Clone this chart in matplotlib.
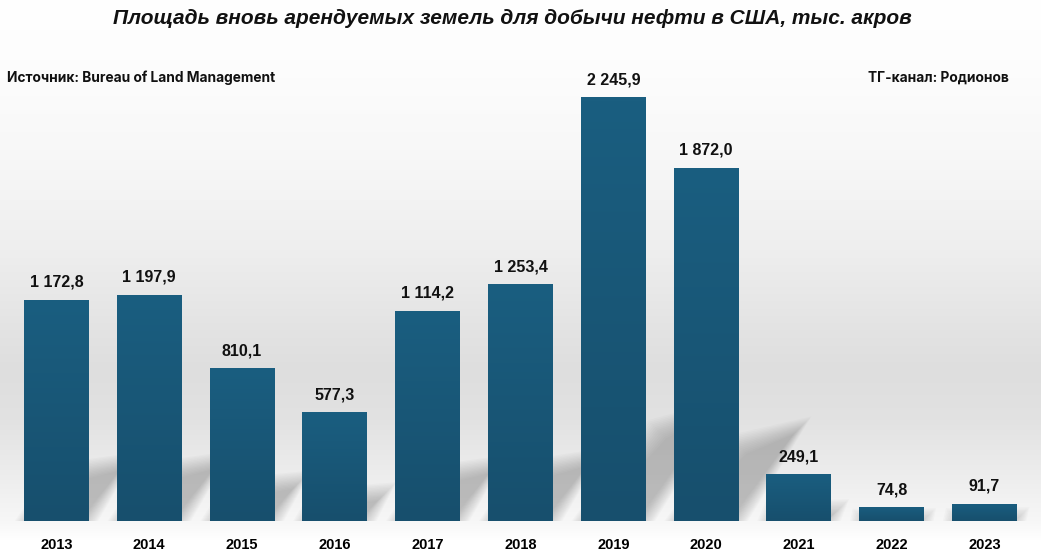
import numpy as np
import matplotlib
matplotlib.use("Agg")
import matplotlib.pyplot as plt
from matplotlib.patches import Polygon
from matplotlib.colors import LinearSegmentedColormap

years = ["2013", "2014", "2015", "2016", "2017", "2018", "2019", "2020", "2021", "2022", "2023"]
values = [1172.8, 1197.9, 810.1, 577.3, 1114.2, 1253.4, 2245.9, 1872.0, 249.1, 74.8, 91.7]

title = "Площадь вновь арендуемых земель для добычи нефти в США, тыс. акров"
source = "Источник: Bureau of Land Management"
channel = "ТГ-канал: Родионов"

W, H = 1041, 554
fig = plt.figure(figsize=(W / 100, H / 100), dpi=100)

# background gradient (figure space)
bg = fig.add_axes([0, 0, 1, 1], zorder=-10)
bg.set_axis_off()
stops_y = np.array([0, 60, 150, 250, 330, 370, 420, 470, 521, 540, 554])
stops_g = np.array([255, 253, 248, 238, 227, 222, 226, 236, 247, 255, 255])
yy = np.arange(H)
col = np.interp(yy, stops_y, stops_g) / 255.0
img = np.repeat(col[:, None], 4, axis=1)
bg.imshow(np.dstack([img, img, img]), extent=[0, 1, 0, 1], aspect="auto", interpolation="bilinear")
bg.set_xlim(0, 1)
bg.set_ylim(0, 1)

# main axes
ax = fig.add_axes([10 / W, 33 / H, 1021 / W, 461 / H])
ax.set_facecolor("none")
x = np.arange(len(years))
bw = 0.70
ax.set_xlim(-0.5, len(years) - 0.5)
ax.set_ylim(0, 2442)
for s in ax.spines.values():
    s.set_visible(False)
ax.set_yticks([])
ax.set_xticks(x)
ax.set_xticklabels(years, fontsize=10.5, fontweight="bold", family="Liberation Sans")
ax.tick_params(axis="x", length=0, pad=12)

# soft shadows
px_x = 1021 / len(years)      # pixels per x unit
px_y = 461 / 2442             # pixels per y unit
for xi, v in zip(x, values):
    x0, x1 = xi - bw / 2, xi + bw / 2
    hpx = v * px_y
    dx = 0.18 * hpx / px_x
    top = 0.27 * v
    n = 14
    for k in range(n):
        g = -9 + k * 1.4  # pixel grow
        gx = g / px_x
        gy = g / px_y
        pts = [(x0 - gx, 0), (x1 + gx, 0), (x1 + dx + gx, top + gy),
               (x0 + dx - gx, top * 0.8 + gy)]
        ax.add_patch(Polygon(pts, closed=True, facecolor="#666666", edgecolor="none",
                             alpha=0.032, zorder=1))

# bars with gradient
cmap = LinearSegmentedColormap.from_list("b", ["#174f6d", "#1a5e80"])
bars = ax.bar(x, values, width=bw, color="#1a5b7c", zorder=2)
grad = np.linspace(0, 1, 100)[:, None]
for b in bars:
    x0 = b.get_x()
    im = ax.imshow(grad, extent=[x0, x0 + b.get_width(), 0, b.get_height()], origin="lower",
                   cmap=cmap, aspect="auto", zorder=3, interpolation="bilinear")
    im.set_clip_path(b)
ax.set_xlim(-0.5, len(years) - 0.5)
ax.set_ylim(0, 2442)

def fmt(v):
    return f"{v:,.1f}".replace(",", " ").replace(".", ",")

for xi, v in zip(x, values):
    ax.annotate(fmt(v), (xi, v), xytext=(0, 12.5), textcoords="offset points",
                ha="center", va="center", fontsize=11.5, fontweight="bold",
                family="Liberation Sans", color="#111111", zorder=5)

fig.text(512 / W, 1 - 19 / H, title, ha="center", va="center", fontsize=15,
         fontweight="bold", fontstyle="italic", family="Liberation Sans", color="#111111")
fig.text(7 / W, 1 - 78 / H, source, ha="left", va="center", fontsize=9.9,
         fontweight="bold", family="Inter", color="#111111")
fig.text(1009 / W, 1 - 78 / H, channel, ha="right", va="center", fontsize=9.9,
         fontweight="bold", family="Inter", color="#111111")

fig.savefig("out.png", dpi=100)
